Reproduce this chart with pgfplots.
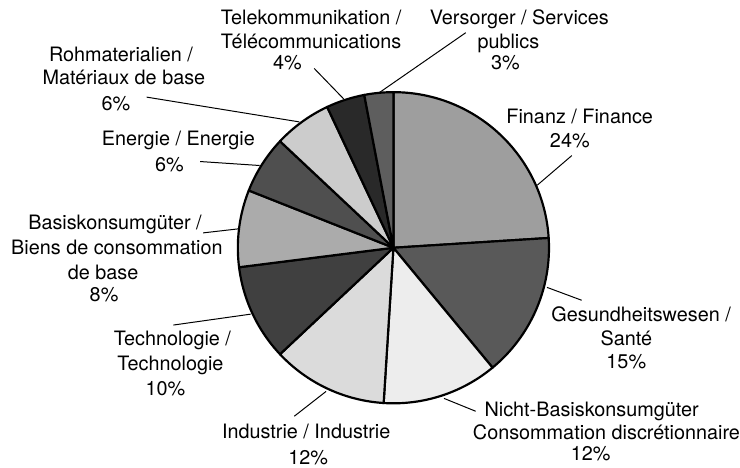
\documentclass[border=0pt]{standalone}
\usepackage{fontspec}
\setmainfont{TeX Gyre Heros}
\usepackage{pgfplots}
\usepackage{pgfplotstable}
\pgfplotsset{compat=1.18}

% sector shares (percent) and slice grey (percent black), clockwise from 12 o'clock
\pgfplotstableread{
sector value shade
Finanz 24 38
Gesundheit 15 65
NichtBasis 12 7
Industrie 12 14
Technologie 10 75
Basis 8 33
Energie 6 69
Rohmat 6 20
Telekom 4 84
Versorger 3 63
}\piedata

\newcommand{\lbl}[3]{\node[anchor=base, inner sep=0pt, font=\fontsize{10}{12}\selectfont] at (axis cs:#1,#2) {#3};}

\begin{document}
\begin{tikzpicture}
\begin{axis}[
  width=370pt, height=236pt, scale only axis,
  xmin=0, xmax=740, ymin=0, ymax=472, y dir=reverse,
  hide axis, clip=false,
]
\draw[draw=none] (rel axis cs:0,0) rectangle (rel axis cs:1,1);
\pgfplotsextra{
  \xdef\cum{0}
  \foreach \i in {0,...,9}{
    \pgfplotstablegetelem{\i}{value}\of\piedata \let\val\pgfplotsretval
    \pgfplotstablegetelem{\i}{shade}\of\piedata \let\sh\pgfplotsretval
    \pgfmathsetmacro\angA{90-3.6*\cum}
    \pgfmathsetmacro\angB{90-3.6*(\cum+\val)}
    \filldraw[draw=black, line width=1.1pt, line join=round, fill=black!\sh]
      (axis cs:397,250) -- ++(\angA:78.5pt)
      arc[start angle=\angA, end angle=\angB, radius=78.5pt] -- cycle;
    \pgfmathsetmacro\nxt{\cum+\val}\xdef\cum{\nxt}
  }
}
% leader lines
\draw[line width=0.5pt] (axis cs:317,69) -- (axis cs:347,100);
\draw[line width=0.5pt] (axis cs:470,33) -- (axis cs:382,94);
\draw[line width=0.5pt] (axis cs:148,98) -- (axis cs:302,123);
\draw[line width=0.5pt] (axis cs:202,163) -- (axis cs:262,167);
\draw[line width=0.5pt] (axis cs:205,235) -- (axis cs:240,231);
\draw[line width=0.5pt] (axis cs:175,328) -- (axis cs:253,317);
\draw[line width=0.5pt] (axis cs:297,420) -- (axis cs:329,395);
\draw[line width=0.5pt] (axis cs:577,157) -- (axis cs:542,187);
\draw[line width=0.5pt] (axis cs:587,303) -- (axis cs:552,290);
\draw[line width=0.5pt] (axis cs:480,415) -- (axis cs:448,402);
% labels
\lbl{314}{25}{Telekommunikation /}
\lbl{314}{49}{Télécommunications}
\lbl{290}{70}{4\%}
\lbl{524}{25}{Versorger / Services}
\lbl{513}{49}{publics}
\lbl{510}{70}{3\%}
\lbl{122}{62}{Rohmaterialien /}
\lbl{125}{85}{Matériaux de base}
\lbl{117}{111}{6\%}
\lbl{180}{147}{Energie / Energie}
\lbl{171}{173}{6\%}
\lbl{116}{232}{Basiskonsumgüter /}
\lbl{118}{257}{Biens de consommation}
\lbl{104}{282}{de base}
\lbl{105}{304}{8\%}
\lbl{174}{349}{Technologie /}
\lbl{172}{374}{Technologie}
\lbl{167}{399}{10\%}
\lbl{309}{442}{Industrie / Industrie}
\lbl{311}{469}{12\%}
\lbl{585}{125}{Finanz / Finance}
\lbl{575}{149}{24\%}
\lbl{647}{324}{Gesundheitswesen /}
\lbl{632}{349}{Santé}
\lbl{632}{372}{15\%}
\lbl{597}{420}{Nicht-Basiskonsumgüter}
\lbl{612}{443}{Consommation discrétionnaire}
\lbl{596}{465}{12\%}
\end{axis}
\end{tikzpicture}
\end{document}
